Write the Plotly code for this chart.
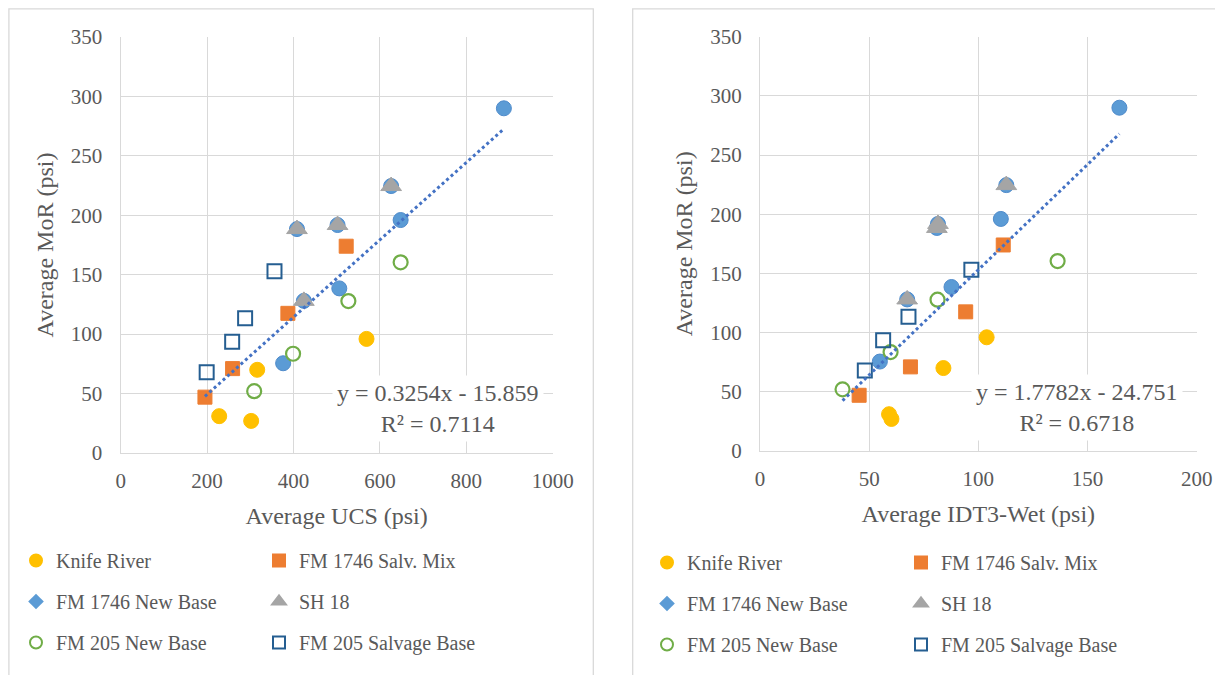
import plotly.graph_objects as go

# the page body adds an 8px offset, so the figure is 8px smaller than the window
OFF = 8
W, H = 1223 - OFF, 675 - OFF


def px(x):
    return (x - OFF) / W


def py(y):
    return 1 - (y - OFF) / H


series_names = ["Knife River", "FM 1746 Salv. Mix", "FM 1746 New Base",
                "SH 18", "FM 205 New Base", "FM 205 Salvage Base"]

# Average MoR (psi), shared by both panels
mor_knife = [31, 27, 70, 96]
mor_salv_mix = [47, 71, 117.5, 174]
mor_new_base = [75.5, 138.5, 196, 290, 188.4, 191.8, 128, 224.6]
mor_sh18 = [188.4, 191.8, 128, 224.6]
mor_fm205_new = [52, 83.5, 127.8, 160.4]
mor_fm205_salv = [68, 93.6, 113.3, 153]

# Average UCS (psi)
ucs_knife = [228, 302, 316, 569]
ucs_salv_mix = [195, 259, 387, 522]
ucs_new_base = [376, 506, 648, 887, 408, 502, 424, 626]
ucs_sh18 = [408, 502, 424, 626]
ucs_fm205_new = [309, 399, 527, 648]
ucs_fm205_salv = [199, 258, 288, 356]

# Average IDT3-Wet (psi)
idt_knife = [59.1, 60.2, 84, 103.8]
idt_salv_mix = [45.4, 68.9, 94.2, 111.4]
idt_new_base = [54.9, 87.7, 110.3, 164.6, 81, 81.5, 67.4, 112.8]
idt_sh18 = [81, 81.5, 67.4, 112.8]
idt_fm205_new = [37.8, 59.8, 81.3, 136.3]
idt_fm205_salv = [48, 56.4, 68, 96.8]

# trendline coefficients shown on the chart
ucs_slope, ucs_icpt, ucs_r2 = 0.3254, -15.859, 0.7114
idt_slope, idt_icpt, idt_r2 = 1.7782, -24.751, 0.6718

GRID = "#D9D9D9"
TXT = "#595959"
FONT = "Liberation Serif"

styles = [
    dict(symbol="circle", size=15, color="#FFC000", line=dict(color="#FFC000", width=1)),
    dict(symbol="square", size=14, color="#ED7D31", line=dict(color="#ED7D31", width=1)),
    dict(symbol="circle", size=15, color="#5B9BD5", line=dict(color="#4F8BCB", width=1)),
    dict(symbol="triangle-up", size=18, color="#A5A5A5", line=dict(color="#A5A5A5", width=1)),
    dict(symbol="circle-open", size=14, color="#70AD47", line=dict(color="#70AD47", width=2.2)),
    dict(symbol="square-open", size=14, color="#255E91", line=dict(color="#255E91", width=2)),
]

left = [(ucs_knife, mor_knife), (ucs_salv_mix, mor_salv_mix), (ucs_new_base, mor_new_base),
        (ucs_sh18, mor_sh18), (ucs_fm205_new, mor_fm205_new), (ucs_fm205_salv, mor_fm205_salv)]
right = [(idt_knife, mor_knife), (idt_salv_mix, mor_salv_mix), (idt_new_base, mor_new_base),
         (idt_sh18, mor_sh18), (idt_fm205_new, mor_fm205_new), (idt_fm205_salv, mor_fm205_salv)]

# legend columns: first column holds series 0,2,4 ; second 1,3,5
leg_left = ["legend", "legend2"]
leg_right = ["legend3", "legend4"]

fig = go.Figure()

for panel, data, legs, xa, ya in [(0, left, leg_left, "x", "y"), (1, right, leg_right, "x2", "y2")]:
    for i, (xs, ys) in enumerate(data):
        st = styles[i]
        leg = legs[i % 2]
        grp = f"p{panel}s{i}"
        is_new_base = series_names[i] == "FM 1746 New Base"
        fig.add_trace(go.Scatter(
            x=xs, y=ys, mode="markers", name=series_names[i],
            marker=st, xaxis=xa, yaxis=ya, legend=leg, legendgroup=grp,
            showlegend=not is_new_base, hoverinfo="x+y"))
        if is_new_base:
            # the legend key of this series is a diamond
            fig.add_trace(go.Scatter(
                x=[None], y=[None], mode="markers", name=series_names[i],
                marker=dict(symbol="diamond", size=13, color="#5B9BD5"),
                xaxis=xa, yaxis=ya, legend=leg, legendgroup=grp))

# linear trendlines over the data range
for data, slope, icpt, xa, ya in [(left, ucs_slope, ucs_icpt, "x", "y"),
                                  (right, idt_slope, idt_icpt, "x2", "y2")]:
    allx = [v for xs, _ in data for v in xs]
    x0, x1 = min(allx), max(allx)
    fig.add_trace(go.Scatter(
        x=[x0, x1], y=[slope * x0 + icpt, slope * x1 + icpt], mode="lines",
        line=dict(color="#4472C4", width=3, dash="dot"),
        xaxis=xa, yaxis=ya, showlegend=False, hoverinfo="skip"))


def eq_text(slope, icpt, r2):
    sign = "-" if icpt < 0 else "+"
    return f"y = {slope}x {sign} {abs(icpt)}<br>R² = {r2}"


axis_common = dict(showgrid=True, gridcolor=GRID, gridwidth=1.3, zeroline=False,
                   showline=True, linecolor=GRID, linewidth=1.3, ticks="",
                   automargin=False,
                   tickfont=dict(family=FONT, size=21, color=TXT))

fig.update_layout(
    width=W, height=H, margin=dict(l=0, r=0, t=0, b=0, autoexpand=False),
    paper_bgcolor="white", plot_bgcolor="white",
    font=dict(family=FONT, color=TXT),
    xaxis=dict(axis_common, domain=[px(120.7), px(552.7)], range=[0, 1000], dtick=200,
               anchor="y", ticklabelstandoff=9,
               title=dict(text="Average UCS (psi)", font=dict(size=24, color=TXT), standoff=14)),
    yaxis=dict(axis_common, domain=[py(453), py(37)], range=[0, 350], dtick=50,
               anchor="x", ticklabelstandoff=13,
               title=dict(text="Average MoR (psi)", font=dict(size=24, color=TXT), standoff=10)),
    xaxis2=dict(axis_common, domain=[px(760), px(1196.7)], range=[0, 200], dtick=50,
                anchor="y2", ticklabelstandoff=9,
                title=dict(text="Average IDT3-Wet (psi)", font=dict(size=24, color=TXT), standoff=14)),
    yaxis2=dict(axis_common, domain=[py(450.9), py(36.7)], range=[0, 350], dtick=50,
                anchor="x2", ticklabelstandoff=13,
                title=dict(text="Average MoR (psi)", font=dict(size=24, color=TXT), standoff=10)),
    shapes=[
        dict(type="rect", xref="paper", yref="paper", x0=px(8.9), x1=px(593.3),
             y0=-0.1, y1=py(8.9), line=dict(color=GRID, width=1.3), layer="below"),
        dict(type="rect", xref="paper", yref="paper", x0=px(632.7), x1=1.1,
             y0=-0.1, y1=py(8.9), line=dict(color=GRID, width=1.3), layer="below"),
    ],
    annotations=[
        dict(text=eq_text(ucs_slope, ucs_icpt, ucs_r2), xref="paper", yref="paper",
             x=px(438.5), y=py(408.5), xanchor="center", yanchor="middle",
             showarrow=False, align="center", bgcolor="white", borderpad=4,
             font=dict(family=FONT, size=24, color=TXT)),
        dict(text=eq_text(idt_slope, idt_icpt, idt_r2), xref="paper", yref="paper",
             x=px(1076.5), y=py(407), xanchor="center", yanchor="middle",
             showarrow=False, align="center", bgcolor="white", borderpad=4,
             font=dict(family=FONT, size=24, color=TXT)),
    ],
)

leg_common = dict(orientation="v", xanchor="left", yanchor="top", bgcolor="rgba(0,0,0,0)",
                  font=dict(family=FONT, size=20, color=TXT), tracegroupgap=12,
                  traceorder="grouped", itemsizing="constant")
fig.update_layout(
    legend=dict(leg_common, x=px(16), y=py(541)),
    legend2=dict(leg_common, x=px(259), y=py(541)),
    legend3=dict(leg_common, x=px(647), y=py(543)),
    legend4=dict(leg_common, x=px(901), y=py(543)),
)

fig.write_html("out.html")
